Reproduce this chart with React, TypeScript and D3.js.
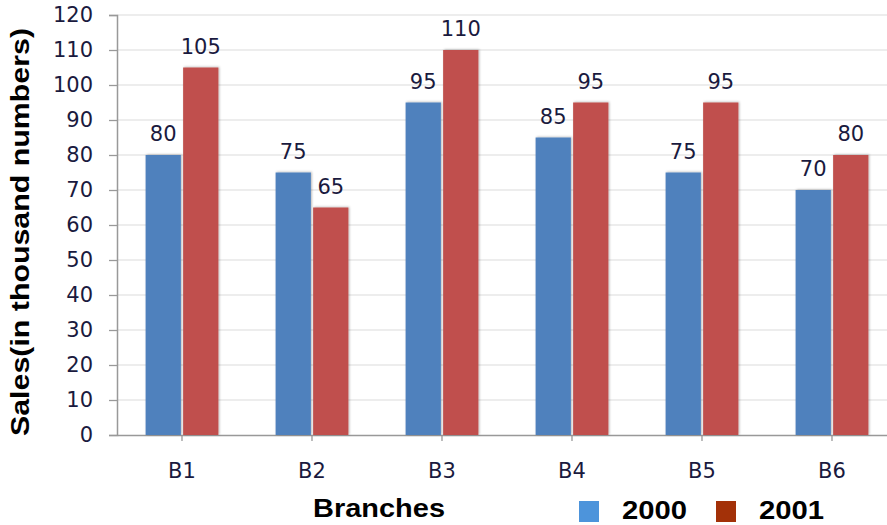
import { useEffect, useRef } from 'react';
import * as d3 from 'd3';

const branches = ['B1', 'B2', 'B3', 'B4', 'B5', 'B6'];
const years = ['2000', '2001'];
const sales2000 = [80, 75, 95, 85, 75, 70];
const sales2001 = [105, 65, 110, 95, 95, 80];
const yTicks = [0, 10, 20, 30, 40, 50, 60, 70, 80, 90, 100, 110, 120];

const barColors = ['#4F81BD', '#C0504D'];
const legendColors = ['#4D94DB', '#A33108'];

const width = 887;
const height = 525;

export default function App() {
  const svgRef = useRef<SVGSVGElement>(null);

  useEffect(() => {
    document.body.style.margin = '0';
    if (!svgRef.current) return;
    const svg = d3.select(svgRef.current);
    svg.selectAll('*').remove();

    const left = 117;
    const right = 897;
    const top = 15;
    const bottom = 435;
    const numFont = '"DejaVu Sans", Verdana, sans-serif';
    const boldFont = '"Liberation Sans", Arial, sans-serif';

    const defs = svg.append('defs');
    const f = defs.append('filter').attr('id', 'shadow')
      .attr('x', '-20%').attr('y', '-5%').attr('width', '140%').attr('height', '110%');
    f.append('feDropShadow')
      .attr('dx', 1).attr('dy', -0.5).attr('stdDeviation', 1.3)
      .attr('flood-color', '#000').attr('flood-opacity', 0.28);

    const y = d3.scaleLinear().domain([0, 120]).range([bottom, top]);
    const x0 = d3.scaleBand<string>().domain(branches).range([left, right])
      .paddingInner(0.44).paddingOuter(0.22);
    const x1 = d3.scaleBand<string>().domain(years).range([0, x0.bandwidth()]).paddingInner(0.06);

    // gridlines
    svg.append('g').selectAll('line').data(yTicks.filter(t => t > 0)).join('line')
      .attr('x1', left).attr('x2', width)
      .attr('y1', d => y(d)).attr('y2', d => y(d))
      .attr('stroke', '#dcdcdc').attr('stroke-width', 1.2);

    // y axis
    const yAxis = svg.append('g').attr('transform', `translate(${left},0)`)
      .call(d3.axisLeft(y).tickValues(yTicks).tickSize(8).tickPadding(16));
    yAxis.select('.domain').attr('stroke', '#999').attr('stroke-width', 1.5);
    yAxis.selectAll('.tick line').attr('stroke', '#999').attr('stroke-width', 1.3);
    yAxis.selectAll('.tick text')
      .attr('font-family', numFont).attr('font-size', 21).attr('fill', '#1a1a3e');

    // x axis
    const xAxis = svg.append('g').attr('transform', `translate(0,${bottom})`)
      .call(d3.axisBottom(x0).tickSize(6).tickSizeOuter(0).tickPadding(22));
    xAxis.select('.domain').attr('stroke', '#999').attr('stroke-width', 1.5);
    xAxis.selectAll('.tick line').attr('stroke', '#999').attr('stroke-width', 1.3);
    xAxis.selectAll('.tick text')
      .attr('font-family', numFont).attr('font-size', 21).attr('fill', '#1a1a3e');

    const rows = branches.map((b, i) => ({ b, vals: [sales2000[i], sales2001[i]] }));
    const groups = svg.append('g').selectAll('g').data(rows).join('g')
      .attr('transform', d => `translate(${x0(d.b)},0)`);

    groups.selectAll('rect').data(d => d.vals.map((v, k) => ({ v, k }))).join('rect')
      .attr('x', d => x1(years[d.k])!)
      .attr('y', d => y(d.v))
      .attr('width', x1.bandwidth())
      .attr('height', d => bottom - y(d.v))
      .attr('fill', d => barColors[d.k])
      .attr('filter', 'url(#shadow)');

    groups.selectAll('text').data(d => d.vals.map((v, k) => ({ v, k }))).join('text')
      .attr('x', d => x1(years[d.k])! + x1.bandwidth() / 2)
      .attr('y', d => y(d.v) - 14)
      .attr('text-anchor', 'middle')
      .attr('font-family', numFont).attr('font-size', 21).attr('fill', '#1a1a3e')
      .text(d => d.v);

    // y title
    svg.append('text')
      .attr('transform', `translate(29,232) rotate(-90)`)
      .attr('text-anchor', 'middle')
      .attr('font-family', boldFont).attr('font-weight', 'bold').attr('font-size', 25)
      .attr('textLength', 408).attr('lengthAdjust', 'spacingAndGlyphs')
      .attr('fill', '#000')
      .text('Sales(in thousand numbers)');

    // x title
    svg.append('text')
      .attr('x', 313).attr('y', 517)
      .attr('font-family', boldFont).attr('font-weight', 'bold').attr('font-size', 25)
      .attr('textLength', 132).attr('lengthAdjust', 'spacingAndGlyphs')
      .attr('fill', '#000')
      .text('Branches');

    // legend
    const legendX = [579, 716];
    years.forEach((yr, k) => {
      svg.append('rect')
        .attr('x', legendX[k]).attr('y', 501).attr('width', 20).attr('height', 21)
        .attr('fill', legendColors[k]);
      svg.append('text')
        .attr('x', legendX[k] + 43).attr('y', 519)
        .attr('font-family', boldFont).attr('font-weight', 'bold').attr('font-size', 26)
        .attr('textLength', 65).attr('lengthAdjust', 'spacingAndGlyphs')
        .attr('fill', '#000')
        .text(yr);
    });
  }, []);

  return (
    <svg
      ref={svgRef}
      width={width}
      height={height}
      style={{ display: 'block', background: '#fff' }}
    />
  );
}
